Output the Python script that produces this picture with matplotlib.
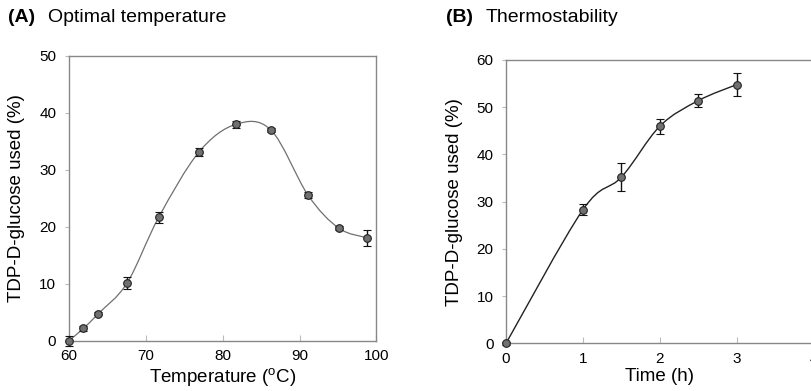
import matplotlib.pyplot as plt
import numpy as np
from matplotlib.path import Path
from matplotlib.patches import PathPatch

plt.rcParams['font.family'] = ['Liberation Sans', 'DejaVu Sans']
plt.rcParams['mathtext.fontset'] = 'custom'
plt.rcParams['mathtext.rm'] = 'Liberation Sans'

# (A) Optimal temperature
temp = [60, 61.9, 63.85, 67.6, 71.7, 76.9, 81.7, 86.3, 91.1, 95.1, 98.8]
used_a = [0, 2.2, 4.8, 10.2, 21.7, 33.1, 38.0, 37.0, 25.6, 19.8, 18.1]
err_a = [0.95, 0.4, 0.3, 1.1, 1.0, 0.7, 0.6, 0.4, 0.6, 0.4, 1.35]

# (B) Thermostability
time_h = [0, 1, 1.5, 2, 2.5, 3]
used_b = [0, 28.3, 35.2, 46.0, 51.4, 54.8]
err_b = [0.3, 1.2, 2.9, 1.6, 1.4, 2.5]


def smooth_path(x, y):
    """ Excel-like smoothed line built as cubic bezier segments """
    p = np.column_stack([x, y]).astype(float)
    n = len(p)
    verts = [p[0]]
    codes = [Path.MOVETO]
    for i in range(n - 1):
        p0 = p[i - 1] if i > 0 else p[i]
        p3 = p[i + 2] if i + 2 < n else p[i + 1]
        c1 = p[i] + (p[i + 1] - p0) / 6
        c2 = p[i + 1] - (p3 - p[i]) / 6
        verts += [c1, c2, p[i + 1]]
        codes += [Path.CURVE4] * 3
    return Path(verts, codes)


def style_axes(ax):
    for s in ax.spines.values():
        s.set_color('#888888')
        s.set_linewidth(1.0)
    ax.tick_params(direction='in', length=4, color='#bbbbbb', labelsize=11, pad=6)
    ax.tick_params(axis='y', direction='out', length=3)


fig = plt.figure(figsize=(8.12, 3.91), dpi=100)

axA = fig.add_axes([0.0846, 0.1279, 0.379, 0.7289])
axA.add_patch(PathPatch(smooth_path(temp, used_a), fill=False, color='#707070', lw=0.9, clip_on=False))
axA.errorbar(temp, used_a, yerr=err_a, fmt='o', ms=5.5, mfc='#707070', mec='#222222',
             mew=0.8, ecolor='#111111', elinewidth=1.0, capsize=3, capthick=1.2, clip_on=False, zorder=3)
axA.set_xlim(60, 100)
axA.set_ylim(0, 50)
axA.set_xticks([60, 70, 80, 90, 100])
axA.set_yticks([0, 10, 20, 30, 40, 50])
axA.set_xlabel('Temperature ($^{\\mathrm{o}}$C)', fontsize=13.5, labelpad=2)
axA.set_ylabel('TDP-D-glucose used (%)', fontsize=13.5, labelpad=10)
style_axes(axA)

axB = fig.add_axes([0.6232, 0.122, 0.379, 0.7246])
axB.add_patch(PathPatch(smooth_path(time_h, used_b), fill=False, color='#222222', lw=1.0, clip_on=False))
axB.errorbar(time_h, used_b, yerr=err_b, fmt='o', ms=5.5, mfc='#707070', mec='#222222',
             mew=0.8, ecolor='#111111', elinewidth=1.0, capsize=3, capthick=1.2, clip_on=False, zorder=3)
axB.set_xlim(0, 4)
axB.set_ylim(0, 60)
axB.set_xticks([0, 1, 2, 3, 4])
axB.set_yticks([0, 10, 20, 30, 40, 50, 60])
axB.set_xlabel('Time (h)', fontsize=13.5, labelpad=2)
axB.set_ylabel('TDP-D-glucose used (%)', fontsize=13.5, labelpad=10)
style_axes(axB)

fig.text(8 / 812, 1 - 18 / 391, '(A)', fontsize=14, fontweight='bold', va='center')
fig.text(48 / 812, 1 - 18 / 391, 'Optimal temperature', fontsize=14, va='center')
fig.text(446 / 812, 1 - 18 / 391, '(B)', fontsize=14, fontweight='bold', va='center')
fig.text(486 / 812, 1 - 18 / 391, 'Thermostability', fontsize=14, va='center')

fig.savefig('out.png', dpi=100)
